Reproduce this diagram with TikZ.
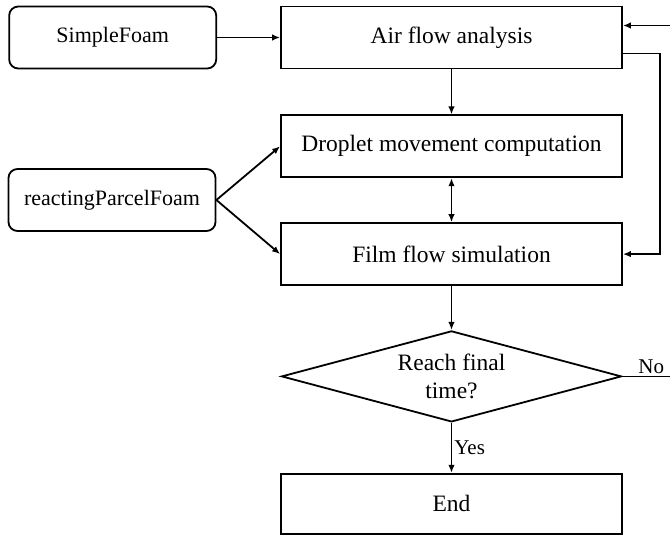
\documentclass[tikz,border=0pt]{standalone}
\usepackage{fontspec}
\setmainfont{Liberation Serif}
\usetikzlibrary{arrows.meta,shapes.geometric,positioning}
\tikzset{
  basic/.style  = {draw, line width=1.8pt, align=center,
                   font=\fontsize{23.5}{28}\selectfont},
  stage/.style  = {basic, rectangle, minimum width=341pt, minimum height=62pt},
  solver/.style = {basic, rectangle, rounded corners=9pt, minimum width=207pt,
                   minimum height=62pt, font=\fontsize{22}{26}\selectfont},
  check/.style  = {basic, diamond, aspect=3.7, inner sep=0pt,
                   minimum width=340pt, minimum height=91pt},
  tag/.style    = {font=\fontsize{21}{25}\selectfont}
}

\begin{document}
\begin{tikzpicture}[
  line width=1.8pt,
  >={Latex[length=8pt,width=6.5pt]}]

\useasboundingbox (0,0) rectangle (670pt,-540pt);

% main column of stages
\node[stage] (air) at (451.5pt,-37.5pt) {Air flow analysis};
\node[stage, below=45pt of air] (drop) {Droplet movement computation};
\node[stage, below=44pt of drop] (film) {Film flow simulation};
\node[check, below=44pt of film] (reach) {Reach final\\time?};
\node[stage, below=50pt of reach, minimum height=60pt] (end) {End};

% solvers on the left
\node[solver, left=63pt of air] (simple) {SimpleFoam};
\node[solver] (parcel) at (112pt,-200pt) {reactingParcelFoam};

% connectors
\draw[->] (simple) -- (air);
\draw[->] (air) -- (drop);
\draw[<->] (drop) -- (film);
\draw[->] (parcel.east) -- (drop.west);
\draw[->] (parcel.east) -- (film.west);
\draw[->] (film) -- (reach);
\draw[->] (reach) -- node[tag, right, inner sep=2pt] {Yes} (end);

% loops on the right
\draw[->] ([yshift=-16pt]air.east) -- ++(37pt,0) |- (film.east);
\draw[->] (reach.east) -- node[tag, above, pos=0.36, inner sep=2pt] {No} ++(80pt,0)
  |- ([yshift=12pt]air.east);
\end{tikzpicture}
\end{document}
